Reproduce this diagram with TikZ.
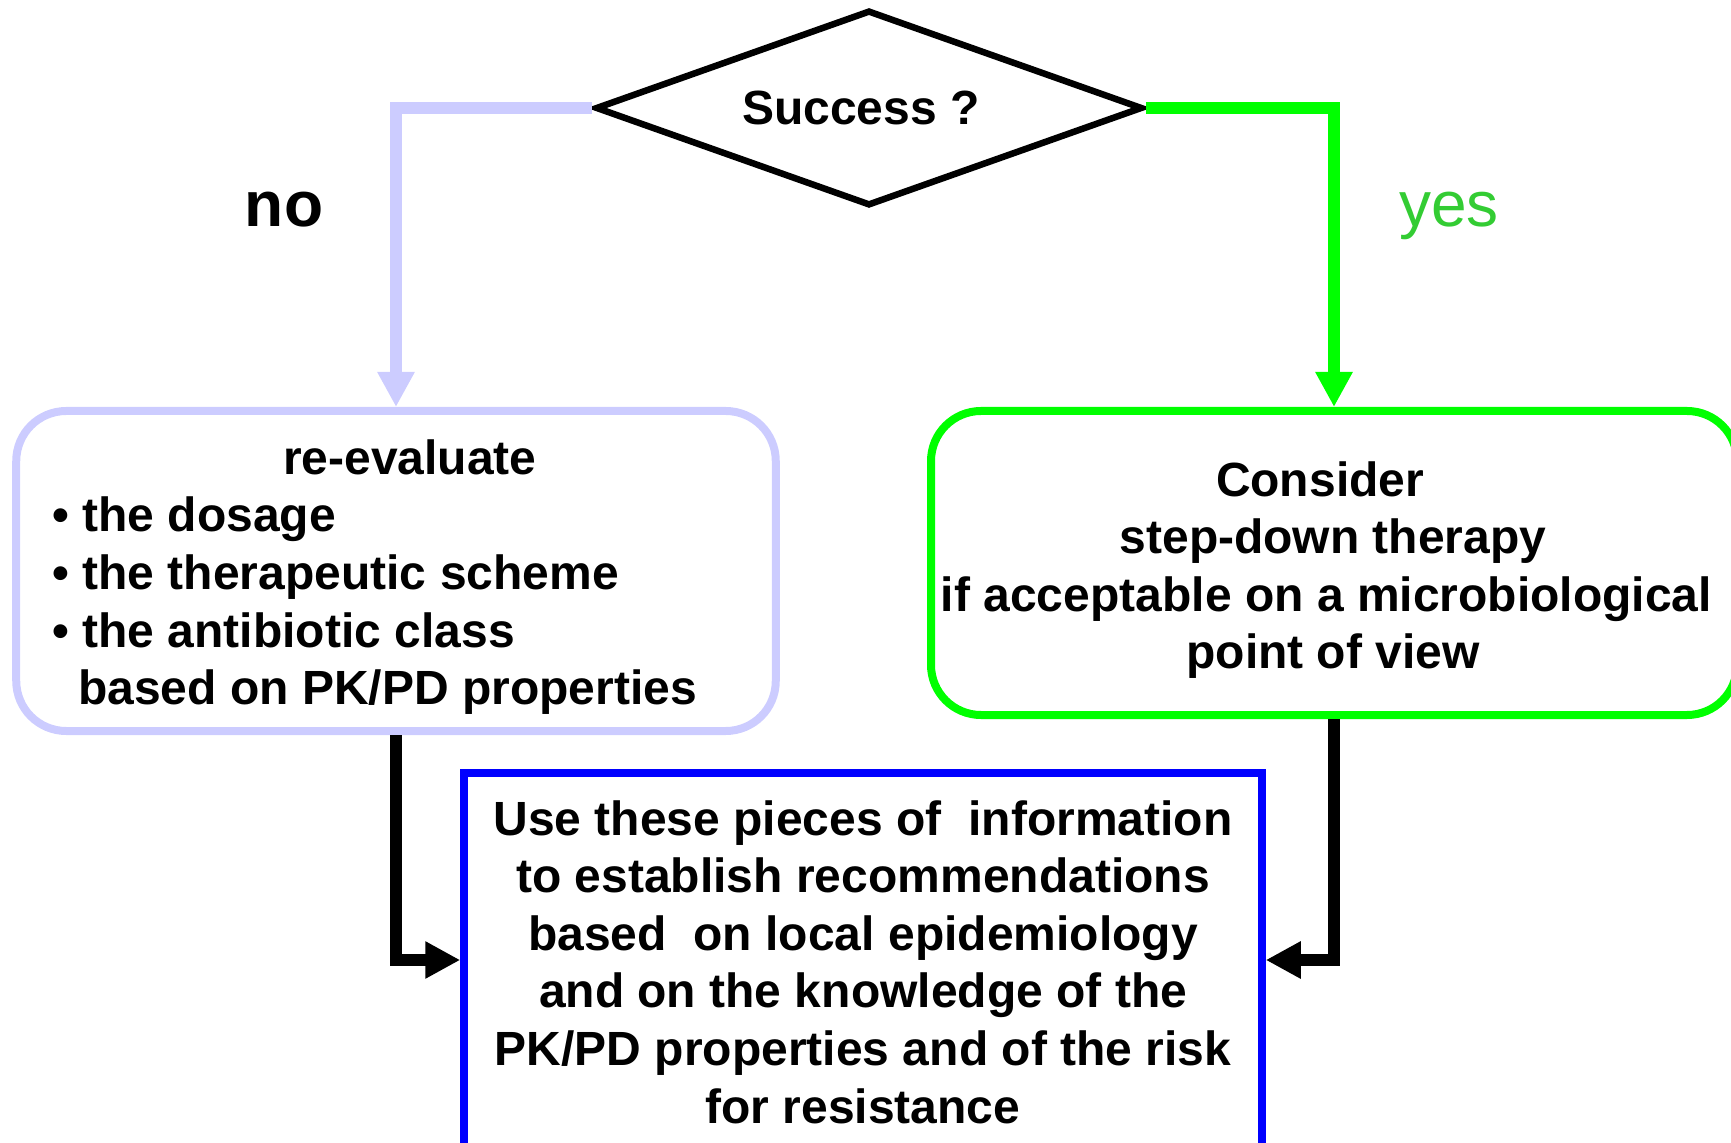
\documentclass[tikz,border=0pt]{standalone}
\usepackage{fontspec}
\setmainfont{Liberation Sans}
\usetikzlibrary{shapes.geometric,arrows.meta}
\definecolor{lav}{RGB}{204,204,255}
\definecolor{grn}{RGB}{0,255,0}
\definecolor{yesgreen}{RGB}{51,204,51}
\definecolor{bblue}{RGB}{0,0,255}
\begin{document}
\begin{tikzpicture}[x=0.4pt,y=-0.4pt,
  body/.style={font=\fontsize{19.2pt}{23.04pt}\selectfont\bfseries},
  big/.style={font=\fontsize{25.6pt}{30pt}\selectfont},
  dia/.style={shape=diamond, draw=black, line width=2.6pt, aspect=2.8,
    minimum width=218.8pt, minimum height=78.2pt, inner sep=0pt, body},
  boxbase/.style={line width=3.2pt, inner sep=0pt, body, align=center},
  lbox/.style={boxbase, draw=lav, rounded corners=20pt, minimum width=303.8pt, minimum height=128pt},
  gbox/.style={boxbase, draw=grn, rounded corners=20pt, minimum width=322.4pt, minimum height=121.6pt},
  bbox/.style={boxbase, draw=bblue, line width=3pt, minimum width=319.2pt, minimum height=149.6pt},
  conn/.style={line width=4.8pt, -{Triangle[width=14pt,length=14pt]}}]
\useasboundingbox (0,0) rectangle (1731,1143);
\clip (0,0) rectangle (1731,1143);

\node[dia] (dec) at (869,108) {\hspace*{-6.4pt}Success ?};

\node[lbox] (re) at (396,571) {};
\node[body, align=left, anchor=west, inner sep=0pt] (retext) at (52,577)
  {\hspace*{92.2pt}re-evaluate\\
   • the dosage\\
   • the therapeutic scheme\\
   • the antibiotic class\\
   \hspace*{10.2pt}based on PK/PD properties};

\node[gbox] (sd) at (1334,563) {};
\node[body, align=center, inner sep=0pt] (sdtext) at (1333,570)
  {Consider\kern10.4pt\mbox{}\\step-down therapy\\if acceptable on a microbiological\kern5.3pt\mbox{}\\point of view};

\node[bbox] (use) at (863,960) {};
\node[body, align=center, inner sep=0pt] (usetext) at (863,962)
  {Use these pieces of~ information\\to establish recommendations\\based~ on local epidemiology\\and on the knowledge of the\\PK/PD properties and of the risk\\for resistance};

\node[big, font=\fontsize{25.6pt}{30pt}\selectfont\bfseries, anchor=base] (no) at (284,227) {no};
\node[big, text=yesgreen, anchor=base] (yes) at (1449,227) {yes};

\draw[conn, lav] (dec.west) -| (re.north);
\draw[conn, grn] (dec.east) -| (sd.north);
\draw[conn, black] (re.south) |- (use.west);
\draw[conn, black] (sd.south) |- (use.east);
\end{tikzpicture}
\end{document}
